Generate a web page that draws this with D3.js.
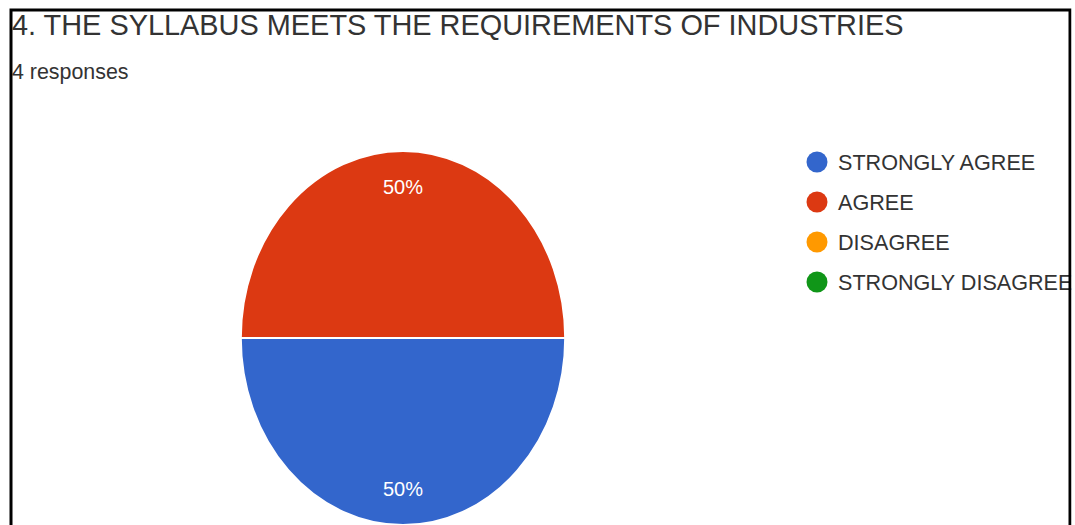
<!DOCTYPE html>
<html>
<head>
<meta charset="utf-8">
<script src="https://cdn.jsdelivr.net/npm/d3@7"></script>
<style>
  html, body { margin: 0; padding: 0; background: #fff; }
  svg { display: block; }
  text { font-family: "Liberation Sans", Arial, sans-serif; }
</style>
</head>
<body>
<svg id="chart" width="1075" height="525"></svg>
<script>
var titleText = '4. THE SYLLABUS MEETS THE REQUIREMENTS OF INDUSTRIES';
var subtitleText = '4 responses';
var categories = ['STRONGLY AGREE', 'AGREE', 'DISAGREE', 'STRONGLY DISAGREE'];
var counts = [2, 2, 0, 0];
var colors = ['#3366cc', '#dc3912', '#ff9900', '#109618'];

var svg = d3.select('#chart');

svg.append('text')
    .attr('x', 12).attr('y', 35)
    .attr('font-size', 28.9)
    .attr('fill', '#333')
    .text(titleText);

svg.append('text')
    .attr('x', 12).attr('y', 79)
    .attr('font-size', 21.4)
    .attr('fill', '#333')
    .text(subtitleText);

// pie (slightly stretched vertically like the source)
var cx = 403, cy = 338, r = 162, sy = 187 / 162;
var total = d3.sum(counts);

var pie = d3.pie()
    .sort(null)
    .startAngle(Math.PI / 2)
    .endAngle(Math.PI / 2 + 2 * Math.PI)
    .value(function(d) { return d; });

var arcs = pie(counts).map(function(a, i) { a.i = i; return a; })
    .filter(function(a) { return a.value > 0; });

var arc = d3.arc().innerRadius(0).outerRadius(r);
var labelArc = d3.arc().innerRadius(131).outerRadius(131);

var g = svg.append('g').attr('transform', 'translate(' + cx + ',' + cy + ')');

g.append('g').attr('transform', 'scale(1,' + sy + ')')
  .selectAll('path')
  .data(arcs)
  .enter().append('path')
    .attr('d', arc)
    .attr('fill', function(d) { return colors[d.i]; })
    .attr('stroke', '#fff')
    .attr('stroke-width', 1.6);

g.selectAll('text.pct')
  .data(arcs)
  .enter().append('text')
    .attr('class', 'pct')
    .attr('x', function(d) { return labelArc.centroid(d)[0]; })
    .attr('y', function(d) { return labelArc.centroid(d)[1] * sy; })
    .attr('dy', '0.35em')
    .attr('text-anchor', 'middle')
    .attr('font-size', 20)
    .attr('fill', '#fff')
    .text(function(d) { return Math.round(d.value / total * 100) + '%'; });

// legend
var legend = svg.append('g').attr('transform', 'translate(817,162)');
var item = legend.selectAll('g')
    .data(categories)
    .enter().append('g')
    .attr('transform', function(d, i) { return 'translate(0,' + i * 40 + ')'; });

item.append('circle')
    .attr('r', 10.5)
    .attr('fill', function(d, i) { return colors[i]; });

item.append('text')
    .attr('x', 21)
    .attr('dy', '0.36em')
    .attr('font-size', 21.6)
    .attr('fill', '#333')
    .text(function(d) { return d; });

// frame round the screenshot, on top so it clips the long legend label
svg.append('rect')
    .attr('x', 11).attr('y', 10)
    .attr('width', 1059).attr('height', 540)
    .attr('fill', 'none')
    .attr('stroke', '#000')
    .attr('stroke-width', 3);
svg.append('rect')
    .attr('x', 1071.5).attr('y', 0)
    .attr('width', 4).attr('height', 525)
    .attr('fill', '#fff');
</script>
</body>
</html>
